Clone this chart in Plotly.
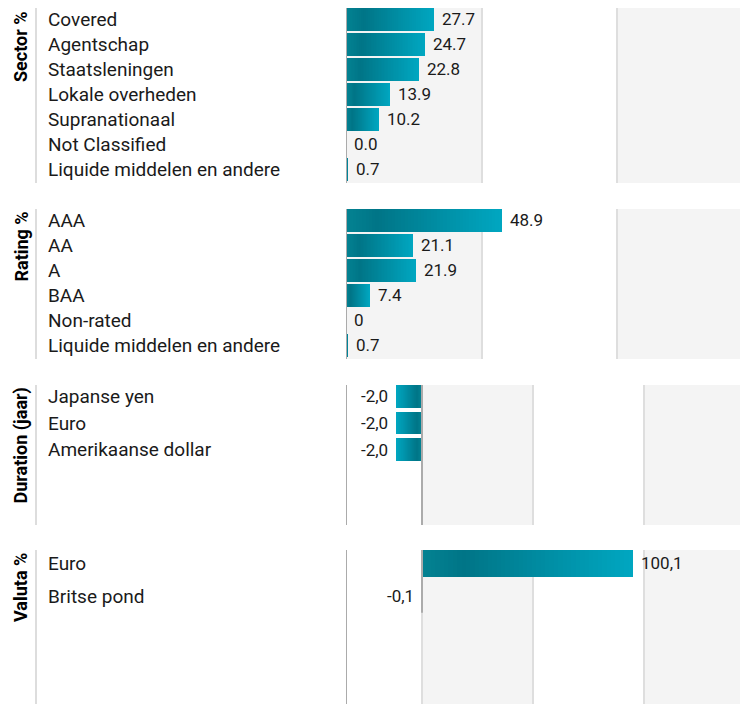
import plotly.graph_objects as go

# ---------------- data ----------------
sector_cats = ["Covered", "Agentschap", "Staatsleningen", "Lokale overheden",
               "Supranationaal", "Not Classified", "Liquide middelen en andere"]
sector_vals = [27.7, 24.7, 22.8, 13.9, 10.2, 0.0, 0.7]
sector_text = ["27.7", "24.7", "22.8", "13.9", "10.2", "0.0", "0.7"]

rating_cats = ["AAA", "AA", "A", "BAA", "Non-rated", "Liquide middelen en andere"]
rating_vals = [48.9, 21.1, 21.9, 7.4, 0, 0.7]
rating_text = ["48.9", "21.1", "21.9", "7.4", "0", "0.7"]

duration_cats = ["Japanse yen", "Euro", "Amerikaanse dollar"]
duration_vals = [-2.0, -2.0, -2.0]
duration_text = ["-2,0", "-2,0", "-2,0"]

valuta_cats = ["Euro", "Britse pond"]
valuta_vals = [100.1, -0.1]
valuta_text = ["100,1", "-0,1"]

panel_titles = ["Sector %", "Rating %", "Duration (jaar)", "Valuta %"]

# ---------------- styling / geometry (page pixels) ----------------
PAGE_W, PAGE_H = 748, 704
OFF = 8                      # default page margin around the plot div
W, H = PAGE_W - OFF, PAGE_H - OFF


def xp(px):
    return (px - OFF) / W


def yp(py):
    return 1 - (py - OFF) / H


AXIS_LEFT = 346      # left edge of bar area
LABEL_X = 46         # category label left edge
RULE_X = 36          # thin vertical rule
TITLE_X = 20.5

panels = [
    dict(cats=sector_cats, vals=sector_vals, text=sector_text, title=panel_titles[0],
         top=8, bottom=183, pitch=25.0, bar=22.7, zero_px=346, ppu=3.19, dtick=42.5,
         zero_full=True),
    dict(cats=rating_cats, vals=rating_vals, text=rating_text, title=panel_titles[1],
         top=209, bottom=359, pitch=25.0, bar=22.7, zero_px=346, ppu=3.19, dtick=42.5,
         zero_full=True),
    dict(cats=duration_cats, vals=duration_vals, text=duration_text, title=panel_titles[2],
         top=385, bottom=525, pitch=26.65, bar=22.7, zero_px=422, ppu=13.0, dtick=111 / 13.0,
         zero_full=True),
    dict(cats=valuta_cats, vals=valuta_vals, text=valuta_text, title=panel_titles[3],
         top=550, bottom=704, pitch=33.0, bar=26.7, zero_px=422, ppu=2.107, dtick=111 / 2.107,
         zero_full=False),
]

STOPS = [(0.0, (3, 130, 146)), (0.2, (0, 117, 135)), (1.0, (0, 167, 193))]


def grad(t):
    for (t0, c0), (t1, c1) in zip(STOPS[:-1], STOPS[1:]):
        if t <= t1:
            u = (t - t0) / (t1 - t0)
            c = [round(a + (b - a) * u) for a, b in zip(c0, c1)]
            return "rgb(%d,%d,%d)" % tuple(c)
    return "rgb(%d,%d,%d)" % STOPS[-1][1]


N = 48
FONT = "Roboto, 'Open Sans', sans-serif"
fig = go.Figure()
shapes = []
annotations = []
layout = {}

for i, p in enumerate(panels, start=1):
    s = "" if i == 1 else str(i)
    xa, ya = "x" + s, "y" + s
    xmin = -(p["zero_px"] - AXIS_LEFT) / p["ppu"]
    xmax = (PAGE_W - p["zero_px"]) / p["ppu"]
    bw = p["bar"] / p["pitch"]
    ytop = -bw / 2
    ybot = ytop + (p["bottom"] - p["top"]) / p["pitch"]

    # gradient bars: overlaid, longest first
    for k in range(N, 0, -1):
        f = k / N
        fig.add_trace(go.Bar(
            y=p["cats"], x=[v * f for v in p["vals"]], orientation="h",
            width=bw, marker=dict(color=grad((k - 0.5) / N), line=dict(width=0)),
            xaxis=xa, yaxis=ya, hoverinfo="skip", showlegend=False))

    layout["xaxis" + s] = dict(
        domain=[xp(AXIS_LEFT), 1], range=[xmin, xmax], anchor=ya,
        showticklabels=False, ticks="", showline=False,
        showgrid=True, gridcolor="#dedede", gridwidth=2,
        tick0=0, dtick=p["dtick"], zeroline=False, fixedrange=True)
    layout["yaxis" + s] = dict(
        domain=[max(0, yp(p["bottom"])), yp(p["top"])], range=[ybot, ytop],
        type="category", categoryorder="array", categoryarray=p["cats"],
        anchor=xa, showticklabels=False, ticks="", showgrid=False,
        zeroline=False, showline=False, fixedrange=True)

    # alternating background bands
    d = p["dtick"]
    for b0, b1 in [(0, d), (2 * d, xmax)]:
        shapes.append(dict(type="rect", xref=xa, yref=ya + " domain",
                           x0=b0, x1=b1, y0=0, y1=1, fillcolor="#f4f4f4",
                           line=dict(width=0), layer="below"))
    # left boundary of bar area
    shapes.append(dict(type="line", xref=xa, yref=ya + " domain",
                       x0=xmin, x1=xmin, y0=0, y1=1,
                       line=dict(color="#ababab", width=2), layer="above"))
    # zero line
    if p["zero_px"] != AXIS_LEFT:
        if p["zero_full"]:
            shapes.append(dict(type="line", xref=xa, yref=ya + " domain",
                               x0=0, x1=0, y0=0, y1=1,
                               line=dict(color="#ababab", width=2), layer="above"))
        else:
            shapes.append(dict(type="line", xref=xa, yref=ya,
                               x0=0, x1=0, y0=ytop, y1=len(p["cats"]) - 0.5,
                               line=dict(color="#ababab", width=2), layer="above"))
    # thin rule left of labels
    shapes.append(dict(type="line", xref="paper", yref="paper",
                       x0=xp(RULE_X), x1=xp(RULE_X),
                       y0=max(0, yp(p["bottom"])), y1=yp(p["top"]),
                       line=dict(color="#dddddd", width=2)))

    # panel title
    annotations.append(dict(text="<b>%s</b>" % p["title"], xref="paper", yref="paper",
                            x=xp(TITLE_X), y=yp(p["top"] + 1), xanchor="center", yanchor="top",
                            textangle=-90, showarrow=False,
                            font=dict(family=FONT, size=18, color="#000000")))
    # category labels + value labels
    for c, v, t in zip(p["cats"], p["vals"], p["text"]):
        annotations.append(dict(text=c, xref="paper", yref=ya, x=xp(LABEL_X), y=c,
                                xanchor="left", yanchor="middle", showarrow=False,
                                font=dict(family=FONT, size=19, color="#1a1a1a")))
        neg = v < 0
        annotations.append(dict(text=t, xref=xa, yref=ya, x=v, y=c,
                                xanchor="right" if neg else "left", yanchor="middle",
                                xshift=-6 if neg else 6, showarrow=False,
                                font=dict(family=FONT, size=17, color="#1a1a1a")))

fig.update_layout(
    width=W, height=H, margin=dict(l=0, r=0, t=0, b=0),
    paper_bgcolor="white", plot_bgcolor="white",
    barmode="overlay", bargap=0, showlegend=False,
    font=dict(family=FONT),
    shapes=shapes, annotations=annotations, **layout)

fig.write_html("out.html")
